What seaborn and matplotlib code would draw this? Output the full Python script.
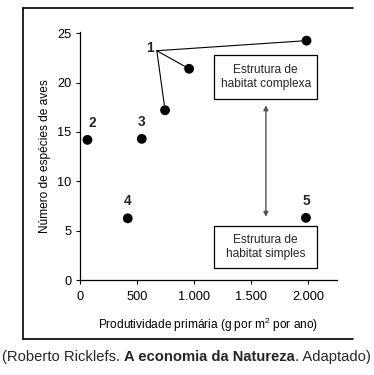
import matplotlib
matplotlib.use("agg")
import matplotlib.pyplot as plt
import seaborn as sns
import pandas as pd
from matplotlib.lines import Line2D
from matplotlib.patches import Rectangle

# points
labels = ["1", "1", "1", "2", "3", "4", "5"]
productivity = [745, 956, 1985, 65, 541, 418, 1980]
species = [17.2, 21.4, 24.25, 14.2, 14.3, 6.25, 6.3]

x_ticks = [0, 500, 1000, 1500, 2000]
x_tick_labels = ["0", "500", "1.000", "1.500", "2.000"]
y_ticks = [0, 5, 10, 15, 20, 25]

df = pd.DataFrame({"label": labels, "x": productivity, "y": species})

sns.set_theme(style="white")
plt.rcParams["font.family"] = ["Liberation Sans", "DejaVu Sans"]
plt.rcParams["mathtext.fontset"] = "custom"
plt.rcParams["mathtext.rm"] = "Liberation Sans"
plt.rcParams["mathtext.default"] = "rm"

fig = plt.figure(figsize=(3.74, 3.75), dpi=100)
ax = fig.add_axes([0.214, 0.2533, 0.6864, 0.662])

# lines from the "1" label to its three points
origin = (673, 23.23)
for _, r in df[df.label == "1"].iterrows():
    ax.plot([origin[0], r.x], [origin[1], r.y], color="black", lw=0.8, zorder=2)
ax.text(origin[0] - 30, origin[1] + 0.3, "1", ha="right", va="center",
        fontsize=9.8, fontweight="bold")

sns.scatterplot(data=df, x="x", y="y", ax=ax, color="black", s=50,
                edgecolor="none", zorder=3, legend=False)

for _, r in df[df.label != "1"].iterrows():
    dx = 45 if r.label == "2" else 0
    ax.text(r.x + dx, r.y + 1.0, r.label, ha="center", va="bottom",
            fontsize=9.8, fontweight="bold")

# habitat boxes
for y0, y1, txt in [(18.3, 22.8, "Estrutura de\nhabitat complexa"),
                    (1.25, 5.5, "Estrutura de\nhabitat simples")]:
    ax.add_patch(Rectangle((1175, y0), 904, y1 - y0, fc="white", ec="black",
                           lw=0.9, zorder=2))
    ax.text(1627, (y0 + y1) / 2, txt, ha="center", va="center",
            fontsize=8.6, linespacing=1.25, zorder=3)

ax.annotate("", xy=(1629, 17.7), xytext=(1629, 6.4),
            arrowprops=dict(arrowstyle="<|-|>", color="#555555", lw=1,
                            mutation_scale=7, shrinkA=0, shrinkB=0))

ax.set_xlim(0, 2250)
ax.set_ylim(0, 25.15)
ax.set_xticks(x_ticks)
ax.set_xticklabels(x_tick_labels)
ax.set_yticks(y_ticks)
ax.tick_params(axis="both", direction="out", length=3, width=0.8,
               labelsize=9.2, pad=3, colors="black", bottom=True, left=True)
ax.tick_params(axis="x", pad=5)
for s in ["top", "right"]:
    ax.spines[s].set_visible(False)
for s in ["left", "bottom"]:
    ax.spines[s].set_color("black")
    ax.spines[s].set_linewidth(0.9)

ax.set_xlabel("Produtividade primária (g por m$^{2}$ por ano)", fontsize=8.6,
              labelpad=9, color="black")
ax.set_ylabel("Número de espécies de aves", fontsize=8.6, labelpad=5,
              color="black")

# open frame round the chart (no right side)
L, R, T, B = 22.5 / 374, 353 / 374, 1 - 8 / 375, 1 - 339 / 375
for xs, ys in [([L, L], [B, T]), ([L, R], [T, T]), ([L, R], [B, B])]:
    fig.add_artist(Line2D(xs, ys, transform=fig.transFigure, color="black", lw=1.2))

# source caption with bold title
t1 = fig.text(2 / 374, 1 - 357 / 375, "(Roberto Ricklefs. ", fontsize=10.6,
              ha="left", va="center")
t2 = ax.annotate("A economia da Natureza", xy=(1, 0), xycoords=t1,
                 ha="left", va="bottom", fontsize=10.6, fontweight="bold",
                 annotation_clip=False)
ax.annotate(". Adaptado)", xy=(1, 0), xycoords=t2, ha="left", va="bottom",
            fontsize=10.6, annotation_clip=False)

fig.savefig("out.png", dpi=100)
